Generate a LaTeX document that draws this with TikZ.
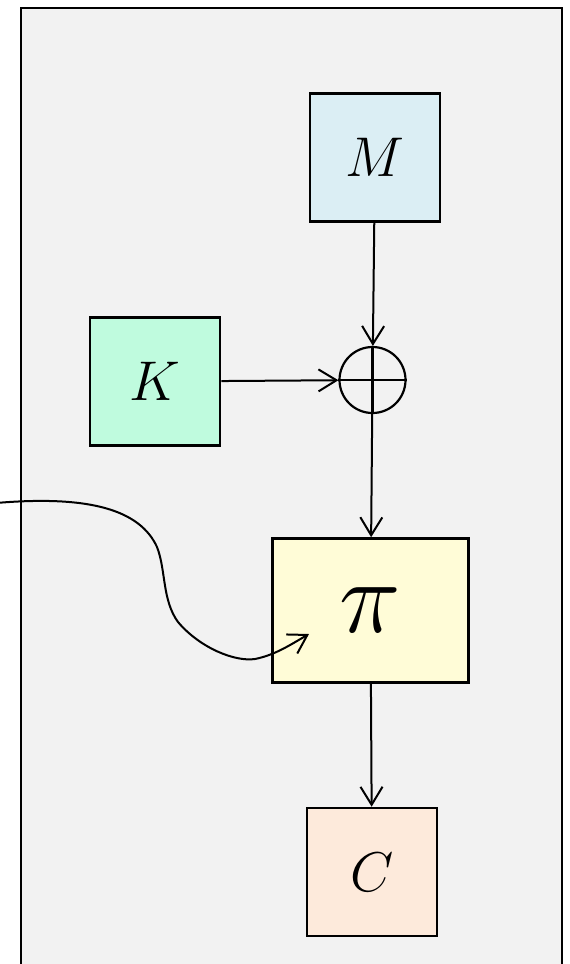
\RequirePackage{fix-cm}
\documentclass[tikz,border=0pt]{standalone}
\usetikzlibrary{arrows.meta,positioning,calc}
\definecolor{mcol}{RGB}{219,238,244}
\definecolor{kcol}{RGB}{191,251,222}
\definecolor{picol}{RGB}{255,252,215}
\definecolor{ccol}{RGB}{253,234,219}
\begin{document}
\begin{tikzpicture}[x=0.5pt,y=-0.5pt,
	box/.style={draw,line width=1.3pt,minimum width=65pt,minimum height=64pt,font=\fontsize{28}{32}\selectfont},
	arr/.style={-{Straight Barb[length=9pt,width=11pt]},line width=1pt}]
		
		\useasboundingbox (0,0) rectangle (569,964);
		\clip (0,0) rectangle (569,964);
		\draw[line width=1.3pt,fill=gray!10] (21,8) rectangle (562,990);
		
		\node[box,fill=mcol] (M) at (375,157.5) {$M$};
		
		\node[box,fill=kcol] (K) at (155,381.5) {$K$};
		
		\node[draw,circle,line width=1.1pt,minimum size=33pt,inner sep=0pt] (xor) at (372.5,380) {};
		\draw[line width=1.1pt] (xor.north)--(xor.south) (xor.west)--(xor.east);
		
		\node[box,fill=picol,minimum width=98pt,minimum height=72pt,font=\fontsize{52}{60}\selectfont] (pi) at (370.5,610.5) {$\pi$};
		
		\node[box,fill=ccol] (C) at (372,872) {$C$};
		
		\coordinate (pin) at (-4,503);
		\coordinate (pend) at (309,634);
		
		\draw[arr] (M)--(xor);
		\draw[arr] (K)--(xor);
		\draw[arr] (xor)--(pi);
		\draw[arr] (pi)--(C);
		\draw[arr] (pin) .. controls (90,495) and (140,510) .. (157,547)
			.. controls (166,570) and (162,600) .. (178,622)
			.. controls (200,648) and (235,662) .. (255,659)
			.. controls (275,655) and (290,645) .. (pend);
		
	\end{tikzpicture}
\end{document}
